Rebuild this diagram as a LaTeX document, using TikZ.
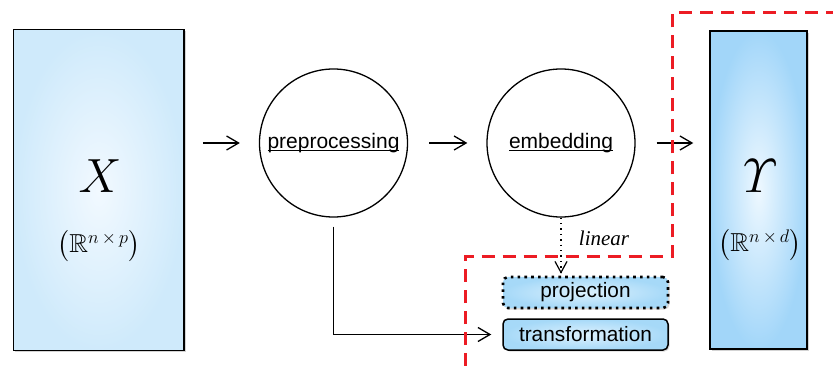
\RequirePackage{fix-cm}
\documentclass[tikz,border=0pt]{standalone}
\usepackage{amsmath,amssymb}
\usepackage{fontspec}
\setmainfont{Liberation Sans}
\newfontfamily\serifit{Liberation Serif}
\usetikzlibrary{arrows.meta,shadows,calc}
\definecolor{boxA}{HTML}{CFEAFB}
\definecolor{boxAin}{HTML}{F2F9FF}
\definecolor{boxB}{HTML}{A2D6F9}
\definecolor{boxBin}{HTML}{EEF8FF}
\definecolor{boxC}{HTML}{A6D9F8}
\definecolor{boxCin}{HTML}{DDF1FD}
\definecolor{redline}{HTML}{EC1C24}
\newcommand\baseul[1]{\setbox0\hbox{#1}\rlap{\rule[-2.8pt]{\wd0}{1.2pt}}\box0}
\tikzset{
  databox/.style={draw=black, line width=1.5pt, inner sep=0pt,
    drop shadow={shadow xshift=1.8pt, shadow yshift=-1.8pt, opacity=0.35}},
  procnode/.style={circle, draw=black, line width=1.3pt, fill=white,
    minimum size=148pt, inner sep=0pt, font=\fontsize{21}{24}\selectfont},
  smallbox/.style={rounded corners=5pt, inner sep=0pt, minimum width=165pt,
    minimum height=31pt, font=\fontsize{20.8}{24}\selectfont,
    inner color=boxCin, outer color=boxC,
    drop shadow={shadow xshift=1.5pt, shadow yshift=-1.5pt, opacity=0.3}},
  flow/.style={line width=1.3pt, -{Straight Barb[length=12pt,width=14pt,line width=1.3pt]}},
  bigletter/.style={font=\fontsize{48}{50}\selectfont, inner sep=0pt},
  spacelabel/.style={font=\fontsize{26}{30}\selectfont, inner sep=0pt},
  regionline/.style={draw=redline, line width=3pt, dash pattern=on 13pt off 8pt}
}
\begin{document}
\begin{tikzpicture}[x=1pt,y=-1pt]
\useasboundingbox (0,0) rectangle (833,366);
% data boxes
\node[databox, minimum width=170.5pt, minimum height=321pt,
  inner color=boxAin, outer color=boxA] (X) at (98.75,190) {};
\node[bigletter] (Xl) at (100,176) {$X$};
\node[spacelabel] (Xs) at (99,246) {$\bigl(\mathbb{R}^{n\,\times\,p}\bigr)$};
\node[databox, minimum width=97pt, minimum height=318pt,
  inner color=boxBin, outer color=boxB] (Y) at (758.5,190) {};
\node[bigletter] (Yl) at (760,176) {$\varUpsilon$};
\node[spacelabel] (Ys) at (760,245) {$\bigl(\mathbb{R}^{n\,\times\,d}\bigr)$};
% process circles
\node[procnode] (pre) at (333.5,143) {\baseul{preprocessing}};
\node[procnode] (emb) at (561,143) {\baseul{embedding}};
% small boxes
\node[smallbox, draw=black, line width=2.6pt, dash pattern=on 2.6pt off 4.2pt] (proj) at (585.5,292.5) {projection};
\node[smallbox, draw=black, line width=1.5pt] (trans) at (585.5,334.5) {transformation};
% connectors
\draw[flow, shorten <=18pt, shorten >=19pt] (X.east |- pre.west) -- (pre.west);
\draw[flow, shorten <=21pt, shorten >=19pt] (pre.east) -- (emb.west);
\draw[flow, shorten <=21pt, shorten >=16pt] (emb.east) -- (Y.west |- emb.east);
\draw[line width=1.2pt, dash pattern=on 1.4pt off 4pt,
  -{Straight Barb[length=11pt,width=12pt,line width=1.2pt]}, shorten >=2pt]
  (emb.south) -- (emb.south |- proj.north);
\node[font=\serifit\itshape\fontsize{21}{24}\selectfont, inner sep=0pt] (lin) at (604,238) {linear};
\coordinate (bend) at ($(pre.south)+(0,9)$);
\draw[flow, shorten >=11pt] (bend) |- (trans.west);
% region
\draw[regionline] (465,366) -- (465,256.5) -- (672.5,256.5) -- (672.5,13) -- (833,13);
\end{tikzpicture}
\end{document}
